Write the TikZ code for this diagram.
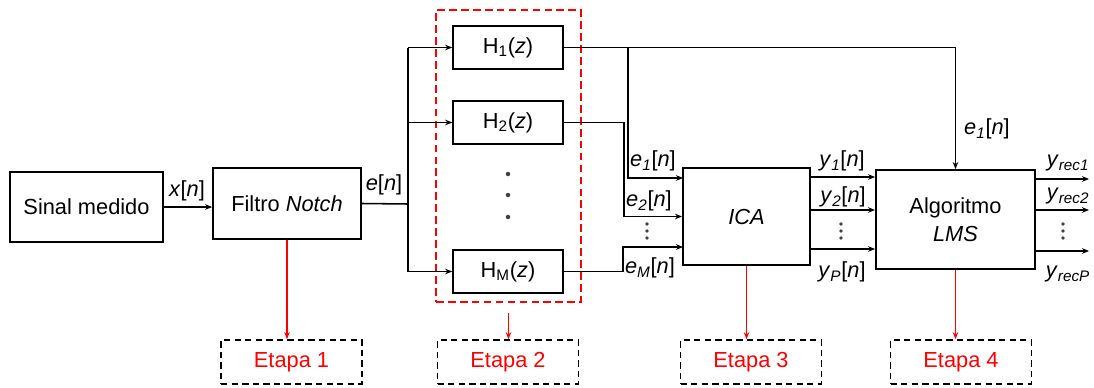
\documentclass[tikz,border=0pt]{standalone}
\usepackage{fontspec}
\setmainfont{Liberation Sans}
\usetikzlibrary{arrows.meta,positioning,calc}

\newcommand{\sinal}[2]{\textit{#1}\textsubscript{\textit{#2}}[\textit{n}]}
\newcommand{\yrec}[1]{\textit{y}\textsubscript{\textit{rec#1}}}

\begin{document}
\begin{tikzpicture}[
    x=0.025cm, y=-0.025cm,
    font=\fontsize{15.5}{18}\selectfont,
    block/.style={rectangle, draw=black, line width=1.2pt, text centered, align=center},
    filt/.style={block, minimum width=2.75cm, minimum height=1.08cm},
    etapa/.style={rectangle, draw=black, line width=1.2pt, dash pattern=on 4.5pt off 3pt, text=red, minimum width=3.52cm, minimum height=1.1cm},
    arrow/.style={-{Stealth[length=5pt,width=4pt]}, line width=1.1pt},
    redarrow/.style={arrow, draw=red, line width=1.2pt},
    lbl/.style={inner sep=0pt}
]
    \useasboundingbox (0,0) rectangle (1094,388);

    % blocos principais
    \node[block, minimum width=3.83cm, minimum height=1.75cm] (sinal) at (86.5,207) {Sinal medido};
    \node[block, minimum width=3.7cm, minimum height=1.78cm] (notch) at (287,203.5) {Filtro \textit{Notch}};
    \node[filt] (H1) at (508,47.5) {H\textsubscript{1}(\textit{z})};
    \node[filt] (H2) at (508,122.5) {H\textsubscript{2}(\textit{z})};
    \node[filt] (HM) at (508,271.5) {H\textsubscript{M}(\textit{z})};
    \node[block, minimum width=3.18cm, minimum height=2.43cm] (ica) at (746.5,216.5) {\textit{ICA}};
    \node[block, minimum width=3.98cm, minimum height=2.48cm] (lms) at (955.5,219.5) {Algoritmo\\[2pt]\textit{LMS}};
    \node[rectangle, draw=red, line width=1.4pt, dash pattern=on 5.5pt off 3pt, minimum width=3.63cm, minimum height=7.3cm] (banco) at (508.5,156) {};

    % etapas
    \node[etapa] (etapa1) at (291.5,362) {Etapa 1};
    \node[etapa] (etapa2) at (508,362) {Etapa 2};
    \node[etapa] (etapa3) at (751,362) {Etapa 3};
    \node[etapa] (etapa4) at (961,362) {Etapa 4};

    % pontos auxiliares
    \coordinate (bus) at (408,204);
    \coordinate (tap) at (628,47.5);
    \coordinate (ica1) at (683,178);
    \coordinate (ica3) at (683,247);
    \coordinate (y1) at (810,177);
    \coordinate (y2) at (810,210);
    \coordinate (yP) at (810,249);
    \coordinate (r1) at (1089,179);
    \coordinate (r2) at (1089,210);
    \coordinate (rP) at (1089,251);

    % ligacoes
    \draw[arrow] (sinal.east |- 0,207) -- (notch.west |- 0,207);
    \draw[line width=1.1pt] (notch.east) -- (bus);
    \draw[line width=1.1pt] (bus |- H1.west) -- (bus |- HM.west);
    \draw[arrow] (bus |- H1.west) -- (H1.west);
    \draw[arrow] (bus |- H2.west) -- (H2.west);
    \draw[arrow] (bus |- HM.west) -- (HM.west);
    \draw[arrow] (H1.east) -| (lms.north);
    \draw[arrow] (tap) |- (ica1);
    \draw[arrow] (H2.east) -- ++(60,0) |- (ica.west);
    \draw[arrow] (HM.east) -- ++(59,0) |- (ica3);
    \draw[arrow] (y1) -- (y1 -| lms.west);
    \draw[arrow] (y2) -- (y2 -| lms.west);
    \draw[arrow] (yP) -- (yP -| lms.west);
    \draw[arrow] (lms.east |- r1) -- (r1);
    \draw[arrow] (lms.east |- r2) -- (r2);
    \draw[arrow] (lms.east |- rP) -- (rP);

    \draw[redarrow] (notch.south) -- (notch.south |- etapa1.north);
    \draw[redarrow] ([yshift=-0.25cm]banco.south) -- (banco.south |- etapa2.north);
    \draw[redarrow] (ica.south) -- (ica.south |- etapa3.north);
    \draw[redarrow] (lms.south) -- (lms.south |- etapa4.north);

    % rotulos
    \node[lbl] (xn) at (187,191) {\textit{x}[\textit{n}]};
    \node[lbl] (en) at (384,185) {\textit{e}[\textit{n}]};
    \node[lbl] (e1) at (653,161) {\sinal{e}{1}};
    \node[lbl] (e2) at (649,201) {\sinal{e}{2}};
    \node[lbl] (eM) at (650,268) {\sinal{e}{M}};
    \node[lbl] (y1n) at (842,161) {\sinal{y}{1}};
    \node[lbl] (y2n) at (843,197) {\sinal{y}{2}};
    \node[lbl] (yPn) at (842,272) {\sinal{y}{P}};
    \node[lbl] (e1l) at (987,129) {\sinal{e}{1}};
    \node[lbl] (rec1) at (1068,163) {\yrec{1}};
    \node[lbl] (rec2) at (1068,196) {\yrec{2}};
    \node[lbl] (recP) at (1068,274) {\yrec{P}};

    % reticencias
    \foreach \yy in {174,195,217} \fill[black!75] (508,\yy) circle (1.6pt);
    \foreach \xx in {647,841,1063} {
        \foreach \yy in {224,231,238} \fill[black!75] (\xx,\yy) circle (1.4pt);
    }
\end{tikzpicture}
\end{document}
